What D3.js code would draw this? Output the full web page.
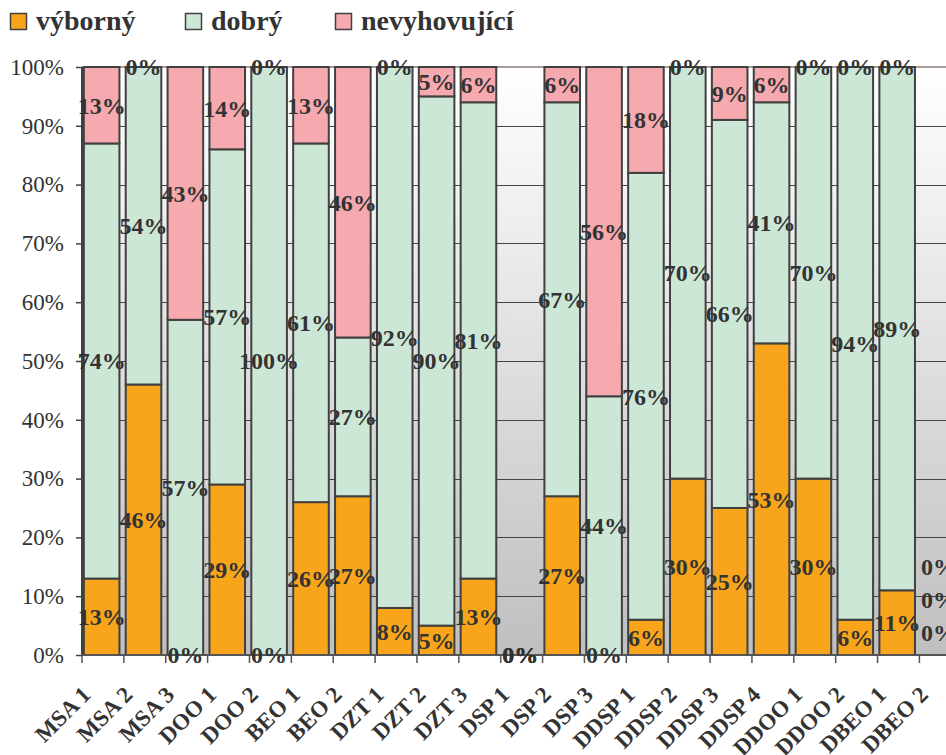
<!DOCTYPE html>
<html>
<head>
<meta charset="utf-8">
<script src="https://cdn.jsdelivr.net/npm/d3@7"></script>
<style>
html,body{margin:0;padding:0;background:#fff;overflow:hidden;}
svg{display:block;}
</style>
</head>
<body>
<svg id="chart" width="946" height="755"></svg>
<script>
const categories = ["MSA 1","MSA 2","MSA 3","DOO 1","DOO 2","BEO 1","BEO 2","DZT 1","DZT 2","DZT 3","DSP 1","DSP 2","DSP 3","DDSP 1","DDSP 2","DDSP 3","DDSP 4","DDOO 1","DDOO 2","DBEO 1","DBEO 2"];
const seriesNames = ["výborný","dobrý","nevyhovující"];
const vyborny     = [13,46,0,29,0,26,27,8,5,13,0,27,0,6,30,25,53,30,6,11,0];
const dobry       = [74,54,57,57,100,61,27,92,90,81,0,67,44,76,70,66,41,70,94,89,0];
const nevyhovujici= [13,0,43,14,0,13,46,0,5,6,0,6,56,18,0,9,6,0,0,0,0];
const yTicks = [0,10,20,30,40,50,60,70,80,90,100];
const colors = ["#f8a51c","#cde7d7","#f6a9ae"];

(function(){
const svg = d3.select("#chart");
const pLeft = 82, pTop = 67, pBottom = 655;
const step = 41.87;
const pRight = pLeft + step * categories.length;
const serif = "'Liberation Serif', 'Times New Roman', Times, serif";

const x = d3.scaleBand().domain(categories).range([pLeft, pRight]).paddingInner(0.15).paddingOuter(0.075);
const y = d3.scaleLinear().domain([0,100]).range([pBottom, pTop]);

const series = [vyborny, dobry, nevyhovujici];
const table = categories.map((c,i)=>{
  const o = {cat:c};
  seriesNames.forEach((s,k)=> o[s] = series[k][i]);
  return o;
});
const stacked = d3.stack().keys(seriesNames)(table);

// gradient background
const defs = svg.append("defs");
const grad = defs.append("linearGradient").attr("id","bg").attr("x1",0).attr("y1",0).attr("x2",0).attr("y2",1);
grad.append("stop").attr("offset","0%").attr("stop-color","#ffffff");
grad.append("stop").attr("offset","100%").attr("stop-color","#bfbfbf");
svg.append("rect").attr("x",pLeft).attr("y",pTop).attr("width",pRight-pLeft).attr("height",pBottom-pTop).attr("fill","url(#bg)");

// gridlines
svg.append("g").selectAll("line").data(yTicks.slice(1,-1)).join("line")
  .attr("x1",pLeft).attr("x2",pRight).attr("y1",d=>Math.round(y(d))+0.5).attr("y2",d=>Math.round(y(d))+0.5)
  .attr("stroke","#444").attr("stroke-width",1);
svg.append("line").attr("x1",pLeft).attr("x2",pRight).attr("y1",pTop).attr("y2",pTop)
  .attr("stroke","#a89c98").attr("stroke-width",2);

// bars
const barOff = -1.3;
svg.append("g").selectAll("g").data(stacked).join("g")
  .attr("fill",(d,i)=>colors[i])
  .selectAll("rect").data(d=>d).join("rect")
  .attr("x",d=>x(d.data.cat)+barOff)
  .attr("y",d=>y(d[1]))
  .attr("width",x.bandwidth())
  .attr("height",d=>y(d[0])-y(d[1]))
  .attr("stroke",d=> (d[1]-d[0])>0 ? "#404040" : "none")
  .attr("stroke-width",2);

// y axis
const yAxis = d3.axisLeft(y).tickValues(yTicks).tickFormat(d=>d+"%").tickSize(6).tickPadding(12);
const ya = svg.append("g").attr("transform",`translate(${pLeft},0)`).call(yAxis);
ya.select(".domain").attr("stroke","#404040").attr("stroke-width",2).attr("d",`M0,${pTop}V${pBottom}`);
ya.selectAll(".tick line").attr("stroke","#404040").attr("stroke-width",1.5);
ya.selectAll(".tick text").attr("font-family",serif).attr("font-size","23px").attr("fill","#333");

// x axis line and ticks at boundaries
svg.append("line").attr("x1",pLeft).attr("x2",pRight).attr("y1",pBottom).attr("y2",pBottom).attr("stroke","#555").attr("stroke-width",2);
svg.append("g").selectAll("line").data(d3.range(categories.length+1)).join("line")
  .attr("x1",i=>pLeft+i*x.step()).attr("x2",i=>pLeft+i*x.step())
  .attr("y1",pBottom).attr("y2",pBottom+8).attr("stroke","#555").attr("stroke-width",1.5);

// x labels
svg.append("g").selectAll("text").data(categories).join("text")
  .attr("transform",d=>`translate(${x(d)+x.bandwidth()/2-11},${pBottom+41}) rotate(-45)`)
  .attr("text-anchor","end")
  .attr("font-family",serif)
  .attr("font-weight","bold").attr("font-size","23px").attr("fill","#333")
  .text(d=>d);

// data labels
const labels = [];
stacked.forEach((s,k)=>{
  s.forEach((d,i)=>{
    labels.push({cat:d.data.cat, i, k, v:d[1]-d[0], mid:(d[0]+d[1])/2});
  });
});
const lastIdx = categories.length-1;
svg.append("g").selectAll("text").data(labels).join("text")
  .attr("x",d=>x(d.cat)+barOff+x.bandwidth()/2)
  .attr("y",d=> (d.i===lastIdx && d3.sum(series,s=>s[d.i])===0) ? y(d.mid) - 22 - d.k*33 : y(d.mid))
  .attr("dy","0.35em")
  .attr("text-anchor","middle")
  .attr("font-family",serif)
  .attr("font-weight","bold").attr("font-size","24px").attr("fill","#333")
  .text(d=>d.v+"%");

// legend
const legX = [10,185,335];
const leg = svg.append("g").selectAll("g").data(seriesNames).join("g")
  .attr("transform",(d,i)=>`translate(${legX[i]},13)`);
leg.append("rect").attr("x",0.5).attr("y",0.5).attr("width",16).attr("height",16)
  .attr("fill",(d,i)=>colors[i]).attr("stroke","#404040").attr("stroke-width",1.5);
leg.append("text").attr("x",26).attr("y",17)
  .attr("font-family",serif)
  .attr("font-weight","bold").attr("font-size","28px").attr("fill","#333")
  .text(d=>d);
})();
</script>
</body>
</html>
